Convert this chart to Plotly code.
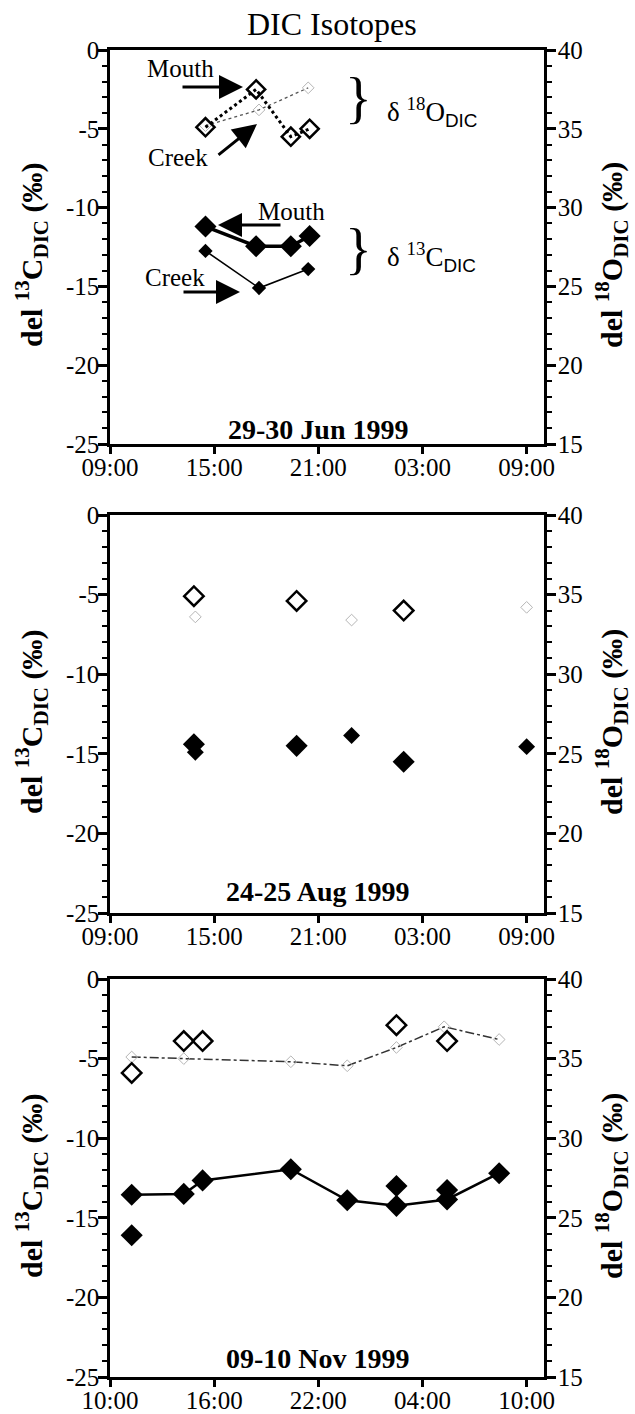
import plotly.graph_objects as go
from datetime import datetime, timedelta

W, H = 635, 1414
SERIF = "Liberation Serif"
SANS = "Liberation Sans"

# ---------------- 29-30 Jun 1999 ----------------
jun_mouth_times = ["1999-06-29 14:30", "1999-06-29 17:25", "1999-06-29 19:25", "1999-06-29 20:30"]
jun_mouth_d13c = [-11.2, -12.45, -12.45, -11.8]
jun_mouth_d18o = [35.1, 37.5, 34.5, 35.0]
jun_creek_times = ["1999-06-29 14:30", "1999-06-29 17:35", "1999-06-29 20:25"]
jun_creek_d13c = [-12.75, -15.1, -13.9]
jun_creek_d18o = [35.2, 36.2, 37.6]

# ---------------- 24-25 Aug 1999 ----------------
aug_mouth_times = ["1999-08-24 13:50", "1999-08-24 19:45", "1999-08-25 01:55"]
aug_mouth_d13c = [-14.4, -14.5, -15.5]
aug_mouth_d18o = [34.9, 34.6, 34.0]
aug_creek_times = ["1999-08-24 13:55", "1999-08-24 22:55", "1999-08-25 09:00"]
aug_creek_d13c = [-14.9, -13.85, -14.55]
aug_creek_d18o = [33.6, 33.4, 34.2]

# ---------------- 09-10 Nov 1999 ----------------
nov_creek_c_times = ["1999-11-09 11:15", "1999-11-09 14:15", "1999-11-09 15:20", "1999-11-09 20:25",
                     "1999-11-09 23:40", "1999-11-10 02:30", "1999-11-10 05:25", "1999-11-10 08:25"]
nov_creek_d13c = [-13.55, -13.5, -12.65, -11.95, -13.9, -14.25, -13.85, -12.2]
nov_creek_o_times = ["1999-11-09 11:15", "1999-11-09 14:15", "1999-11-09 20:25", "1999-11-09 23:40",
                     "1999-11-10 02:30", "1999-11-10 05:15", "1999-11-10 08:25"]
nov_creek_d18o = [35.1, 35.0, 34.8, 34.55, 35.7, 37.0, 36.2]
nov_mouth_c_times = ["1999-11-09 11:15", "1999-11-10 02:30", "1999-11-10 05:25"]
nov_mouth_d13c = [-16.1, -13.0, -13.25]
nov_mouth_o_times = ["1999-11-09 11:15", "1999-11-09 14:15", "1999-11-09 15:20",
                     "1999-11-10 02:30", "1999-11-10 05:25"]
nov_mouth_d18o = [34.1, 36.1, 36.1, 37.1, 36.1]

# panel x-axis windows (start, 25 h span) and date captions
panel_starts = ["1999-06-29 09:00", "1999-08-24 09:00", "1999-11-09 10:00"]
panel_captions = ["29-30 Jun 1999", "24-25 Aug 1999", "09-10 Nov 1999"]

d13c_ticks = [-25, -20, -15, -10, -5, 0]
d18o_ticks = [15, 20, 25, 30, 35, 40]

# pixel layout of the three plot frames
X_LEFT, X_RIGHT = 110, 544
ROWS_PX = [(50, 444), (515, 913), (979, 1377)]
CAPTION_Y = [429, 891, 1358]


def px(x):
    return x / W


def py(y):
    return 1 - y / H


fig = go.Figure()


def names(row):
    xa = "x" if row == 1 else f"x{row}"
    yl = "y" if row == 1 else f"y{2 * row - 1}"
    yr = f"y{2 * row}"
    return xa, yl, yr


def add(row, side, times, vals, mode, marker, line=None):
    xa, yl, yr = names(row)
    kw = dict(x=times, y=vals, mode=mode, xaxis=xa, yaxis=yl if side == "left" else yr,
              marker=marker, showlegend=False, cliponaxis=False)
    if line is not None:
        kw["line"] = line
    fig.add_trace(go.Scatter(**kw))


filled_big = dict(symbol="diamond", size=17, color="black", line=dict(width=0))
filled_small = dict(symbol="diamond", size=11, color="black", line=dict(width=0))
open_big = dict(symbol="diamond-open", size=14, color="black", line=dict(width=2.5))
open_faint = dict(symbol="diamond-open", size=9, color="#b5b5b5", line=dict(width=1))

# --- Jun panel ---
add(1, "right", jun_creek_times, jun_creek_d18o, "lines+markers", open_faint,
    dict(color="#555", width=1.3, dash="dot"))
add(1, "right", jun_mouth_times, jun_mouth_d18o, "lines+markers", open_big,
    dict(color="black", width=3, dash="dot"))
add(1, "left", jun_creek_times, jun_creek_d13c, "lines+markers", filled_small,
    dict(color="black", width=1.6))
add(1, "left", jun_mouth_times, jun_mouth_d13c, "lines+markers", filled_big,
    dict(color="black", width=3.5))

# --- Aug panel ---
add(2, "right", aug_creek_times, aug_creek_d18o, "markers", open_faint)
add(2, "right", aug_mouth_times, aug_mouth_d18o, "markers", dict(open_big, size=15))
add(2, "left", aug_creek_times, aug_creek_d13c, "markers", dict(filled_small, size=13))
add(2, "left", aug_mouth_times, aug_mouth_d13c, "markers", filled_big)

# --- Nov panel ---
add(3, "right", nov_creek_o_times, nov_creek_d18o, "lines+markers", open_faint,
    dict(color="#333", width=1.5, dash="dashdot"))
add(3, "right", nov_mouth_o_times, nov_mouth_d18o, "markers", dict(open_big, size=15))
add(3, "left", nov_creek_c_times, nov_creek_d13c, "lines+markers", filled_big,
    dict(color="black", width=2.5))
add(3, "left", nov_mouth_c_times, nov_mouth_d13c, "markers", filled_big)

tick_font = dict(family=SERIF, size=25, color="black")
layout = dict(
    template="none",
    width=W, height=H, margin=dict(l=0, r=0, t=0, b=0, autoexpand=False),
    paper_bgcolor="white", plot_bgcolor="white",
    font=dict(family=SERIF, color="black"),
    showlegend=False,
)

for i, start in enumerate(panel_starts):
    row = i + 1
    xa, yl, yr = names(row)
    t0 = datetime.strptime(start, "%Y-%m-%d %H:%M")
    t1 = t0 + timedelta(hours=25)
    top_px, bot_px = ROWS_PX[i]
    ydom = [py(bot_px), py(top_px)]
    xkey = "xaxis" if row == 1 else f"xaxis{row}"
    ylkey = "yaxis" if row == 1 else f"yaxis{2 * row - 1}"
    yrkey = f"yaxis{2 * row}"
    layout[xkey] = dict(
        domain=[px(X_LEFT), px(X_RIGHT)], anchor=yl, type="date", automargin=False,
        range=[t0, t1], tick0=t0, dtick=6 * 3600 * 1000, tickformat="%H:%M",
        showgrid=False, zeroline=False, showline=True, linecolor="black", linewidth=3,
        mirror=True, ticks="outside", ticklen=7, tickwidth=2.5, tickcolor="black",
        tickfont=tick_font, ticklabelstandoff=-8,
    )
    axis_common = dict(
        domain=ydom, anchor=xa, automargin=False, showgrid=False, zeroline=False, showline=True,
        linecolor="black", linewidth=2.5, ticks="outside", ticklen=9, tickwidth=2.5,
        tickcolor="black", tickmode="array", tickfont=tick_font,
        minor=dict(tickmode="linear", tick0=0, dtick=1, ticks="outside", ticklen=5, tickwidth=2,
                   tickcolor="black", showgrid=False),
    )
    layout[ylkey] = dict(axis_common, range=[d13c_ticks[0], d13c_ticks[-1]], side="left",
                         tickvals=d13c_ticks, ticktext=[str(v) for v in d13c_ticks],
                         ticklabelstandoff=-6)
    layout[yrkey] = dict(axis_common, range=[d18o_ticks[0], d18o_ticks[-1]], side="right",
                         overlaying=yl, tickvals=d18o_ticks, ticktext=[str(v) for v in d18o_ticks],
                         ticklabelstandoff=-3)

fig.update_layout(**layout)

ann = []
# figure title
ann.append(dict(text="DIC Isotopes", x=px(332), y=py(24), xref="paper", yref="paper",
                showarrow=False, font=dict(family=SERIF, size=32), xanchor="center", yanchor="middle"))

left_title = "<b>del <sup>13</sup>C<sub>DIC</sub> (‰)</b>"
right_title = "<b>del <sup>18</sup>O<sub>DIC</sub> (‰)</b>"
for i, (top_px, bot_px) in enumerate(ROWS_PX):
    yc = py((top_px + bot_px) / 2 + 8)
    ann.append(dict(text=left_title, x=px(31), y=yc, xref="paper", yref="paper", textangle=-90,
                    showarrow=False, font=dict(family=SERIF, size=30), xanchor="center", yanchor="middle"))
    ann.append(dict(text=right_title, x=px(611), y=yc, xref="paper", yref="paper", textangle=-90,
                    showarrow=False, font=dict(family=SERIF, size=30), xanchor="center", yanchor="middle"))
    ann.append(dict(text=f"<b>{panel_captions[i]}</b>", x=px(318), y=py(CAPTION_Y[i]), xref="paper",
                    yref="paper", showarrow=False, font=dict(family=SERIF, size=28),
                    xanchor="center", yanchor="middle"))

# site labels and arrows in the June panel
label_font = dict(family=SERIF, size=25)
for text, (tx, ty) in [("Mouth", (180, 68)), ("Creek", (178, 157)), ("Mouth", (291, 212)), ("Creek", (175, 277))]:
    ann.append(dict(text=text, x=px(tx), y=py(ty), xref="paper", yref="paper", showarrow=False,
                    font=label_font, xanchor="center", yanchor="middle"))

for (hx, hy), (ax, ay) in [((243, 87), (-62, 0)), ((257, 124), (-40, 32)),
                           ((218, 225), (64, 0)), ((240, 292), (-58, 0))]:
    ann.append(dict(text="", x=px(hx), y=py(hy), xref="paper", yref="paper", showarrow=True,
                    ax=ax, ay=ay, arrowhead=2, arrowsize=1.6, arrowwidth=3, arrowcolor="black",
                    standoff=0, startstandoff=0))

# braces and isotope labels
for by in (98, 249):
    ann.append(dict(text="}", x=px(359), y=py(by), xref="paper", yref="paper", showarrow=False,
                    font=dict(family=SERIF, size=56), xanchor="center", yanchor="middle"))
sub_span = '<sub><span style="font-family:Liberation Sans">DIC</span></sub>'
ann.append(dict(text="δ <sup>18</sup>O" + sub_span, x=px(385), y=py(112), xref="paper", yref="paper",
                showarrow=False, font=dict(family=SERIF, size=27), xanchor="left", yanchor="middle"))
ann.append(dict(text="δ <sup>13</sup>C" + sub_span, x=px(385), y=py(257), xref="paper", yref="paper",
                showarrow=False, font=dict(family=SERIF, size=27), xanchor="left", yanchor="middle"))

fig.update_layout(annotations=ann)
fig.write_html("out.html")
